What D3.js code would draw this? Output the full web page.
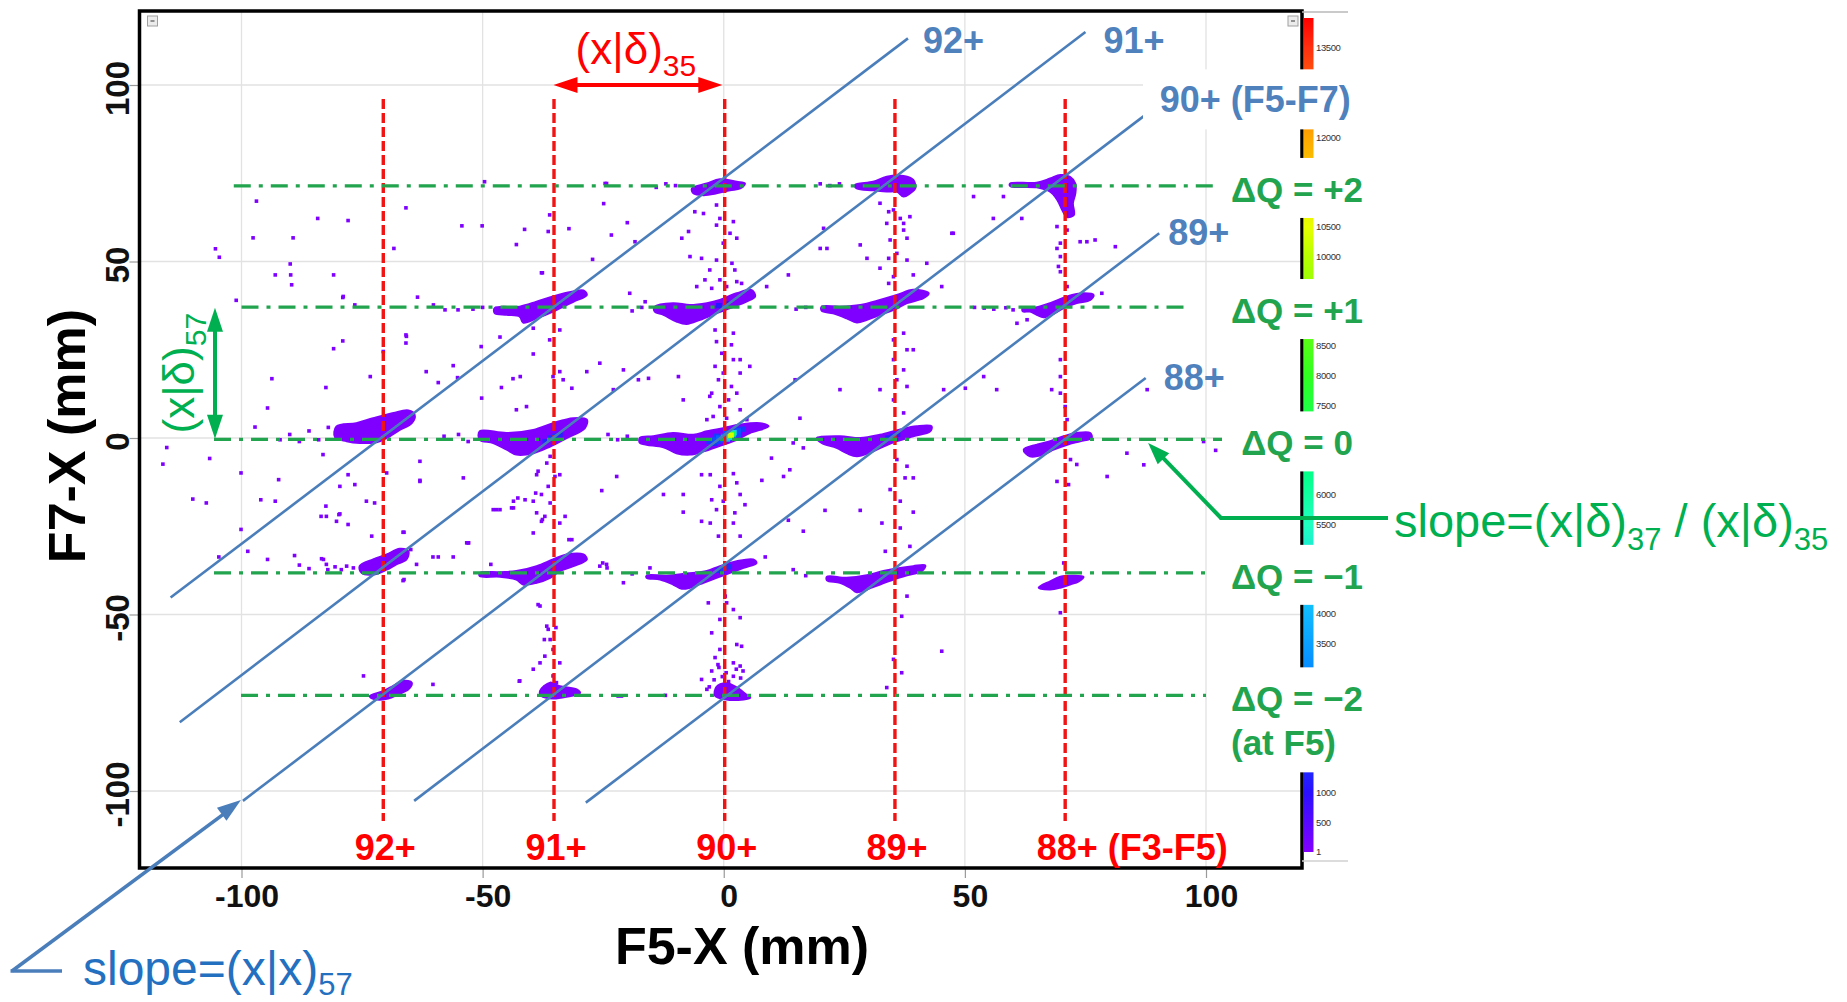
<!DOCTYPE html>
<html>
<head>
<meta charset="utf-8">
<script src="https://cdn.jsdelivr.net/npm/d3@7"></script>
<style>
  html, body { margin: 0; padding: 0; background: #ffffff; }
  svg { display: block; font-family: "Liberation Sans", Arial, sans-serif; }
</style>
</head>
<body>
<svg id="chart" width="1847" height="1002"></svg>
<script>
// ---- axis ticks (mm) ----
const xTicks = [-100, -50, 0, 50, 100];
const yTicks = [-100, -50, 0, 50, 100];

// ---- charge states between F3 and F5 : vertical dashed lines at F5-X ----
const qF35 = ["92+", "91+", "90+", "89+", "88+"];
const xF35 = [-70.6, -35.2, 0.2, 35.5, 70.8];
const yF35Range = [-108.5, 96];

// ---- charge change between F5 and F7 : horizontal dash-dot lines at F7-X ----
const dqLabels = ["ΔQ = +2", "ΔQ = +1", "ΔQ = 0", "ΔQ = −1", "ΔQ = −2"];
const dqY  = [71.4, 37.1, -0.4, -38.2, -72.9];
const dqX0 = [-101.6, -100.0, -105.7, -105.7, -100.1];
const dqX1 = [102.0, 95.4, 104.0, 101.0, 100.0];

// ---- charge states between F5 and F7 : diagonal lines (start / end in mm) ----
const qF57 = ["92+", "91+", "90+ (F5-F7)", "89+", "88+"];
const f57Start = [[-114.7, -45.2], [-112.8, -80.5], [-99.7, -102.8], [-64.2, -102.8], [-28.6, -103.3]];
const f57End   = [[38.2, 113.2], [75.0, 115.0], [87.3, 91.4], [90.3, 58.0], [87.5, 17.0]];

// ---- dispersion markers ----
const dispX35 = [-35.3, -0.3];   // (x|δ)35 arrow, at F7-X = 100
const dispY57 = [-0.2, 36.9];    // (x|δ)57 arrow, at F5-X = -105.5

// ---- dense event clusters (outlines in mm) ----
const clusterOutlines = [
  // 92+ , ΔQ 0
  [[-80.3,3.3],[-76.2,4.2],[-72.7,5.6],[-68.5,7.1],[-65.4,7.8],[-64.1,6.6],[-64.7,4.2],[-67.2,2.3],[-69.9,0.0],[-72.0,-1.2],[-75.5,-1.4],[-78.2,-0.9],[-80.6,0.2]],
  // 91+ , ΔQ 0
  [[-50.6,1.9],[-45.0,1.4],[-39.5,2.3],[-35.4,4.2],[-31.2,5.6],[-28.4,5.2],[-28.8,2.8],[-32.6,0.0],[-36.0,-2.4],[-39.5,-4.3],[-43.0,-4.7],[-45.0,-3.3],[-47.8,-1.4],[-50.6,-0.5]],
  // 91+ , ΔQ +1
  [[-47.5,36.8],[-42.3,37.2],[-38.8,38.6],[-35.4,40.1],[-31.2,41.5],[-29.1,41.8],[-28.4,40.5],[-31.2,38.6],[-35.4,35.8],[-38.8,33.9],[-41.6,32.7],[-42.3,34.4],[-45.0,34.9],[-47.5,35.4]],
  // 90+ , ΔQ +2
  [[-6.6,70.7],[-3.5,72.1],[-0.8,73.3],[2.7,72.6],[4.4,72.1],[3.4,70.7],[1.3,70.2],[-1.5,69.3],[-4.2,68.8],[-6.3,69.3]],
  // 89+ , ΔQ +2
  [[27.2,71.7],[31.0,72.6],[33.8,74.0],[37.3,74.2],[39.3,73.1],[39.7,70.7],[38.6,69.3],[37.3,68.4],[35.9,69.8],[33.8,69.8],[31.0,70.2],[27.6,70.7]],
  // 88+ , ΔQ +2
  [[59.4,72.1],[64.9,72.3],[67.7,73.5],[69.8,74.5],[71.8,74.0],[72.9,72.1],[72.9,69.3],[72.4,66.5],[72.6,63.2],[71.2,62.6],[70.2,64.6],[69.2,67.4],[67.7,69.8],[64.9,71.0],[59.4,71.4]],
  // 90+ , ΔQ +1
  [[-14.3,37.2],[-10.5,38.2],[-7.0,37.7],[-3.5,38.2],[-0.8,39.1],[2.7,41.0],[5.8,41.9],[6.5,40.1],[4.8,38.7],[1.3,36.8],[-1.5,35.4],[-4.9,33.5],[-7.7,32.3],[-9.8,33.0],[-12.5,34.9],[-14.3,35.8]],
  // 89+ , ΔQ +1
  [[20.3,37.2],[24.1,37.2],[28.3,37.7],[32.4,39.1],[35.9,40.5],[39.3,42.0],[42.5,41.0],[41.4,39.6],[38.0,38.2],[35.2,36.3],[32.4,34.9],[29.7,33.5],[27.6,32.7],[25.5,33.9],[22.7,35.3],[20.3,36.1]],
  // 88+ , ΔQ +1
  [[62.0,36.9],[64.2,36.8],[67.7,38.2],[71.2,40.1],[74.6,41.0],[76.7,40.5],[76.0,39.1],[73.2,38.2],[70.5,36.8],[68.4,35.2],[66.3,34.2],[64.9,34.9],[63.5,35.8],[62.0,35.9]],
  // 90+ , ΔQ 0
  [[-17.4,0.0],[-14.6,0.5],[-10.5,1.4],[-6.3,0.9],[-3.5,1.9],[-0.1,2.8],[3.4,3.8],[7.5,4.2],[9.3,3.3],[5.4,1.4],[2.7,-0.5],[-0.8,-2.2],[-4.2,-3.8],[-7.0,-4.7],[-9.8,-4.3],[-12.5,-2.6],[-16.0,-1.9],[-17.4,-1.4]],
  // 89+ , ΔQ 0
  [[19.3,0.0],[24.1,0.5],[28.3,0.0],[32.4,0.9],[36.6,2.4],[40.0,3.3],[43.1,3.3],[42.8,1.9],[39.3,0.5],[35.9,-0.9],[33.1,-2.4],[30.4,-4.1],[27.6,-5.2],[25.5,-4.3],[23.4,-2.8],[20.3,-1.4]],
  // 88+ , ΔQ 0
  [[62.2,-3.3],[64.9,-1.9],[67.7,-0.9],[70.5,0.5],[73.2,1.4],[76.0,1.4],[76.3,0.0],[73.9,-0.9],[71.2,-1.9],[68.4,-3.3],[66.3,-4.7],[63.5,-5.2]],
  // 92+ , ΔQ -1
  [[-75.5,-36.3],[-72.7,-34.4],[-69.9,-33.0],[-67.2,-31.4],[-65.4,-32.1],[-65.8,-34.4],[-67.9,-35.8],[-69.9,-37.3],[-72.7,-38.7],[-75.1,-38.2]],
  // 91+ , ΔQ -1
  [[-50.6,-38.2],[-46.4,-38.0],[-43.0,-37.7],[-38.8,-36.3],[-35.4,-34.4],[-32.6,-33.0],[-29.1,-33.0],[-28.4,-34.4],[-31.2,-36.3],[-34.0,-37.7],[-36.0,-39.6],[-38.8,-41.0],[-41.6,-41.5],[-43.0,-40.1],[-46.4,-39.3],[-50.6,-39.1]],
  // 90+ , ΔQ -1
  [[-16.0,-39.0],[-11.8,-39.0],[-7.7,-38.4],[-3.5,-37.7],[-0.8,-36.3],[2.7,-34.9],[6.1,-34.4],[6.8,-35.4],[4.1,-36.8],[1.3,-38.2],[-1.5,-39.6],[-4.2,-41.0],[-7.0,-42.4],[-8.7,-42.7],[-10.5,-41.5],[-13.2,-40.1],[-16.0,-39.6]],
  // 89+ , ΔQ -1
  [[21.4,-39.3],[25.5,-39.6],[29.7,-38.9],[33.1,-37.7],[36.6,-36.8],[39.3,-36.3],[41.8,-36.1],[41.1,-37.7],[38.0,-38.9],[35.2,-40.1],[32.4,-41.5],[29.7,-42.9],[27.6,-43.7],[26.2,-42.4],[24.1,-41.0],[21.4,-40.3]],
  // 88+ , ΔQ -1
  [[65.3,-42.4],[67.7,-40.6],[69.8,-39.3],[72.5,-39.0],[74.6,-39.3],[73.6,-40.6],[71.8,-41.5],[69.8,-42.4],[67.7,-42.9]],
  // 92+ , ΔQ -2
  [[-73.4,-73.1],[-70.6,-71.7],[-68.6,-70.3],[-66.5,-68.8],[-64.7,-69.3],[-65.4,-71.2],[-67.5,-72.6],[-69.6,-73.8],[-72.3,-74.0]],
  // 91+ , ΔQ -2
  [[-38.1,-71.7],[-36.0,-69.3],[-34.0,-70.3],[-30.5,-71.2],[-29.8,-72.2],[-32.6,-73.3],[-35.4,-73.8],[-37.8,-73.1]],
  // 90+ , ΔQ -2
  [[-1.5,-70.5],[0.5,-69.5],[2.5,-70.5],[4.5,-72.5],[5.5,-73.6],[3.0,-74.2],[0.3,-74.0],[-1.8,-73.0]]
];

// ---- high-count histogram cells (mm, counts) ----
const hotX = [-3.0,-2.0,-1.0,0.0,1.0,2.0,3.0,4.0,-2.0,-1.0,0.0,1.0,2.0,3.0,-1.5,0.5,2.5, 0.0,0.7,1.4,2.1,0.7,1.4, 1.2,1.9, 1.5, -37.0,-36.0,-35.0,-34.0, -1.0,0.0,1.0, 34.0,35.0,36.0, -1.0,0.5];
const hotY = [-1.0,-0.5,0.0,0.5,1.0,1.5,2.0,2.5,-1.5,-1.0,-0.5,0.0,0.5,1.0,0.5,1.5,2.5, 0.0,0.5,1.0,1.5,-0.3,0.2, 0.6,1.1, 0.8, -1.0,0.0,0.5,1.0, -37.5,-37.0,-36.5, 0.0,0.5,1.0, 37.5,38.0];
const hotN = [1600,1900,2300,2500,2600,2400,2100,1700,1500,1800,2200,2600,2300,1900,1700,2100,1600, 4300,4800,5200,4600,4200,4700, 7600,7200, 10300, 1300,1500,1600,1300, 1400,1700,1500, 1200,1400,1200, 1100,1200];

// ---- isolated events (mm) ----
const sparseHits = [
  [-96.9,67.1],[-84.2,62.2],[-97.6,56.7],[-89.3,56.7],[-77.9,61.6],[-65.9,65.2],[-49.6,72.6],[-54.3,60.1],[-50.1,60.1],[-41.3,59.1],[-43.0,54.8],[-32.1,59.3],[-24.9,66.4],[-20.0,61.0],[-105.4,53.6],[-104.6,51.2],[-89.9,49.3],[-93.0,46.2],[-89.8,46.2],[-89.6,43.4],[-80.9,46.2],[-68.4,53.7],[-37.6,46.8],[-27.2,50.6],[-19.5,41.0],[-101.1,39.0],[-79.0,39.8],[-63.5,39.9],[-16.3,38.6],[-79.0,27.5],[-80.9,25.3],[-65.9,29.2],[-65.9,26.9],[-50.3,25.9],[-46.4,28.6],[-55.2,17.1],[-73.3,17.4],[-93.7,16.8],[-82.5,14.3],[-61.7,18.8],[-42.2,17.4],[-17.7,16.5],[-9.4,17.4],[-115.5,-2.7],[-116.3,-7.4],[-106.6,-5.8],[-100.1,-9.9],[-92.3,-11.8],[-94.6,8.5],[-97.2,3.1],
  [-36.1,63.2],[-36.4,58.5],[-24.3,72.1],[-23.3,57.5],[-18.4,55.6],[-78.9,40.1],[-76.5,37.7],[-60.2,37.7],[-57.8,36.3],[-55.1,36.3],[-65.8,28.8],[-70.6,24.5],[-56.1,20.5],[-59.2,15.7],[-50.2,11.3],[-46.1,14.3],[-43.7,16.8],[-39.5,23.8],[-37.8,46.8],[-34.0,30.6],[-36.1,27.8],[-39.5,31.1],[-34.0,18.8],[-35.4,17.4],[-33.3,16.5],[-43.0,8.0],[-40.9,8.9],[-31.5,14.1],[-28.4,18.8],[-25.7,21.2],[-20.8,19.3],[-15.6,16.9],[-22.9,13.7],[-36.0,-5.2],[-36.7,-7.1],[-38.5,-9.4],[-34.0,-10.4],[-63.0,-6.6],[-77.9,-10.4],[-69.9,-9.9],[-83.1,-4.7],[-24.6,72.1],
  [-6.0,64.1],[-4.2,63.6],[-1.5,66.0],[-0.8,62.2],[2.0,61.3],[-1.5,60.3],[1.3,58.0],[2.7,56.6],[-0.1,55.2],[-1.5,50.4],[1.7,49.5],[-2.9,47.6],[2.3,47.6],[-3.9,44.8],[-0.8,44.8],[2.7,44.3],[0.6,42.9],[-2.5,42.4],[-5.6,42.9],[3.7,43.8],[-1.8,30.6],[2.0,29.7],[-1.5,27.3],[1.6,26.4],[-0.4,24.0],[2.0,22.2],[-1.8,20.3],[-0.1,18.4],[3.4,18.4],[-1.1,16.5],[1.6,14.6],[-2.5,12.7],[1.0,10.8],[2.7,12.7],[-0.8,8.9],[3.4,8.0],[-2.2,6.1],[0.6,5.6],[-7.3,58.5],[-8.7,56.6],[-7.0,51.4],[-4.6,50.9],[-2.9,11.8],[3.4,22.2],[5.4,20.3],[-8.4,10.8],[-3.5,5.2],[4.8,5.2],
  [8.9,42.9],[13.4,46.2],[20.7,59.4],[20.0,53.7],[21.4,53.7],[28.3,54.7],[29.7,50.9],[34.2,50.9],[32.4,48.1],[42.1,49.5],[39.3,46.2],[45.2,42.9],[47.3,58.0],[14.8,16.5],[15.8,5.6],[24.1,13.7],[32.4,13.7],[39.3,25.0],[45.6,13.7],[51.8,68.4],[34.2,64.1],[37.3,58.9],[38.0,56.6],[32.4,66.5],[33.8,60.8],[36.6,62.2],[38.6,62.7],[14.4,-1.4],[16.5,-2.8],[13.7,-9.0],[9.9,-5.7],
  [35.2,64.6],[37.3,60.8],[34.5,56.1],[35.9,52.3],[38.0,50.4],[35.2,45.7],[34.2,43.8],[37.3,29.7],[35.2,27.8],[38.0,25.0],[35.2,22.2],[37.3,19.3],[35.9,16.5],[38.0,14.6],[35.2,10.8],[37.3,7.1],[35.9,-6.1],[38.0,-8.0],
  [69.1,59.9],[71.2,58.9],[69.8,55.2],[69.1,53.7],[69.8,51.4],[69.4,48.6],[69.8,47.1],[71.2,42.9],[73.9,55.6],[75.3,55.6],[77.0,56.1],[81.2,54.2],[69.8,22.2],[69.8,17.4],[68.0,13.7],[69.8,12.7],[70.8,8.9],[71.2,5.2],[71.9,-6.1],[73.2,-7.5],[78.4,41.0],[62.9,33.5],[60.8,32.5],[53.9,17.4],[56.6,13.7],[50.1,14.1],[58.0,68.4],[61.8,62.2],[55.9,62.2],[47.6,58.0],[79.5,-10.9],[83.6,-4.3],[87.1,-7.6],[87.8,13.7],[99.5,-1.0],[102.0,-3.5],[104.0,-2.0],
  [-4.6,-10.4],[-2.8,-10.4],[2.0,-10.1],[2.7,-12.7],[-0.8,-13.7],[-2.5,-17.5],[-0.1,-17.9],[3.4,-16.0],[-1.5,-20.3],[2.3,-21.2],[-4.6,-23.6],[-2.8,-24.1],[2.0,-24.1],[-1.1,-27.8],[3.4,-27.8],[0.3,-44.8],[0.6,-46.7],[-3.2,-46.7],[2.0,-48.6],[-0.8,-51.4],[3.4,-50.9],[-2.5,-55.2],[2.7,-58.5],[3.7,-59.0],[-0.8,-59.9],[-1.8,-62.2],[2.0,-63.7],[3.4,-64.6],[-4.6,-68.4],[-3.5,-71.2],[-8.4,-16.0],[-12.5,-16.0],[-8.4,-21.0],[7.9,-12.0],[12.4,-10.9],[4.4,-18.9],[13.4,-23.3],[16.5,-26.4],[8.6,-33.7],[14.4,-37.3],
  [-2.5,-66.0],[-1.0,-65.0],[0.5,-66.5],[2.0,-67.5],[-2.0,-68.5],[1.0,-69.0],[3.5,-68.0],[-3.0,-70.5],[4.0,-66.0],[-1.2,-64.2],[2.6,-65.5],[-0.3,-67.6],
  [34.5,-14.6],[37.6,-11.3],[39.3,-11.3],[36.6,-17.9],[39.3,-21.0],[32.8,-24.1],[36.6,-25.5],[38.6,-30.7],[33.5,-32.1],[38.0,-44.8],[36.9,-50.5],[35.2,-62.7],[36.9,-66.5],[33.8,-70.7],[21.0,-20.5],[28.3,-20.5],[45.2,-60.4],[69.1,-12.3],[71.5,-13.2],[70.5,-35.4],[69.8,-49.5],
  [-38.8,-10.4],[-35.0,-10.9],[-36.4,-13.7],[-37.8,-16.0],[-39.5,-17.9],[-41.2,-17.5],[-36.0,-18.4],[-38.8,-21.2],[-37.1,-22.2],[-34.0,-24.1],[-37.8,-23.6],[-32.9,-22.2],[-39.5,-26.9],[-31.5,-28.8],[-47.1,-20.3],[-46.4,-20.3],[-43.6,-17.9],[-44.0,-19.8],[-54.0,-11.3],[-63.0,-12.3],[-53.0,-29.7],[-38.5,-47.2],[-36.4,-54.2],[-36.0,-57.1],[-35.4,-59.9],[-37.1,-61.8],[-39.5,-65.5],[-38.1,-63.7],[-34.0,-63.7],[-35.4,-67.4],[-34.7,-69.3],[-36.7,-53.3],[-42.3,-68.8],[-25.3,-14.9],[-22.2,-10.9],[-25.7,-36.3],[-20.8,-41.0],[-21.2,-73.1],[-15.3,-36.8],[-24.3,-35.8],
  [-79.6,-13.7],[-76.5,-13.2],[-82.4,-22.2],[-79.6,-21.5],[-80.3,-23.6],[-77.9,-24.5],[-73.0,-27.8],[-74.1,-17.9],[-72.4,-18.4],[-66.5,-26.7],[-63.0,-12.0],[-66.5,-40.4],[-63.7,-35.8],[-60.3,-33.7],[-59.2,-33.7],[-56.1,-33.7],[-53.3,-29.7],[-60.3,-69.8],[-83.4,-34.2],[-82.4,-35.8],[-80.6,-36.5],[-79.3,-37.3],[-78.2,-36.3],[-76.8,-36.8],
  [-110.1,-17.3],[-107.3,-18.4],[-96.0,-17.5],[-93.0,-17.9],[-100.1,-25.9],[-98.7,-32.1],[-104.7,-33.7],[-94.6,-34.4],[-89.0,-33.3],[-83.0,-34.4],[-82.1,-37.3],[-66.3,-26.7],[-64.9,-31.6],[-52.9,-29.7],[-48.3,-35.8],[-43.6,-19.8],[-42.7,-17.0],[-39.0,-15.6],[-37.6,-23.1],[-32.1,-28.8],[-25.1,-35.4],[-24.2,-36.8],[-47.8,-20.3],[-83.5,-22.2],[-79.8,-21.7],[-82.5,-19.3],[-66.3,-40.1],[-74.7,-67.4],[-42.4,-68.9],[-38.1,-47.6],[-21.9,-73.1],[-12.1,-72.9],[-37.2,-57.1],[-34.8,-53.7],
  [-84.0,-0.5],[-86.0,2.0],[-88.0,-1.0],[-90.0,1.0],[-92.0,-0.5],[-82.0,3.0],[-55.0,1.0],[-53.0,-1.0],[-58.0,0.5],[-50.0,37.0],[-52.0,36.5],[-17.0,37.0],[-19.0,36.0],[17.0,37.0],[15.0,36.5],[52.0,37.0],[54.0,36.8],[56.0,36.5],[58.5,36.9],[60.0,36.3],[-12.0,72.0],[-10.0,71.5],[-14.0,71.0],[20.0,72.0],[22.0,71.5],[24.0,72.0],[-88.0,-36.0],[-86.0,-37.0],[-19.0,-38.5],[17.0,-39.0],[-20.0,0.5],[-22.0,-0.5],[-24.0,1.0]
];

// ---- colour bar: labelled counts and colour stops ----
const cbTicks = [1, 500, 1000, 3500, 4000, 5500, 6000, 7500, 8000, 8500, 10000, 10500, 12000, 13500];
const cbStops  = [0, 1000, 2500, 4000, 5500, 6500, 8000, 10000, 10500, 12000, 13500, 14000];
const cbColors = ["#8400ff","#2a10ff","#0070ff","#10b8ff","#20ffc0","#00ff80","#30ff20","#b8ff00","#e8ff00","#ffa800","#ff3010","#ff0000"];

// ================= drawing =================
const svg = d3.select("#chart");
const frame = { l: 139.5, r: 1302, t: 11, b: 868 };

const x = d3.scaleLinear().domain([-100, 100]).range([241.5, 1206]);
const y = d3.scaleLinear().domain([-100, 100]).range([791, 85]);
const cScale = d3.scaleLinear().domain(cbStops).range(cbColors).interpolate(d3.interpolateRgb);
const cbY = d3.scaleLinear().domain([0, 14000]).range([852, 18]);

const RED = "#f01414", GREEN = "#22a44e", GREEN2 = "#00b050", BLUE = "#4a7ebb", BLUE_T = "#4f81bd";

// grid
const grid = svg.append("g");
grid.selectAll("line.gx").data(xTicks).join("line")
  .attr("x1", d => x(d)).attr("x2", d => x(d)).attr("y1", frame.t).attr("y2", frame.b)
  .attr("stroke", "#e2e2e2").attr("stroke-width", 1.3);
grid.selectAll("line.gy").data(yTicks).join("line")
  .attr("x1", frame.l).attr("x2", frame.r).attr("y1", d => y(d)).attr("y2", d => y(d))
  .attr("stroke", "#e2e2e2").attr("stroke-width", 1.3);

// axes (hyphen minus in tick labels)
const tickFmt = d => String(d);
const xAxis = svg.append("g").attr("transform", `translate(0,${frame.b})`)
  .call(d3.axisBottom(x).tickValues(xTicks).tickSize(10).tickPadding(0).tickFormat(tickFmt));
xAxis.select(".domain").remove();
xAxis.selectAll(".tick line").attr("stroke", "#9a9a9a").attr("stroke-width", 1.2);
xAxis.selectAll(".tick text").attr("y", 39).attr("dy", 0).attr("x", 5)
  .attr("font-size", 32).attr("font-weight", "bold").attr("fill", "#111")
  .attr("font-family", "Liberation Sans, Arial, sans-serif");

const yAxis = svg.append("g").attr("transform", `translate(${frame.l},0)`)
  .call(d3.axisLeft(y).tickValues(yTicks).tickSize(10).tickPadding(0).tickFormat(tickFmt));
yAxis.select(".domain").remove();
yAxis.selectAll(".tick line").attr("stroke", "#9a9a9a").attr("stroke-width", 1.2);
yAxis.selectAll(".tick text").attr("transform", "rotate(-90)")
  .attr("x", -3).attr("y", -10.5).attr("dy", 0).attr("text-anchor", "middle")
  .attr("font-size", 33).attr("font-weight", "bold").attr("fill", "#111")
  .attr("font-family", "Liberation Sans, Arial, sans-serif");

// event clusters
const plot = svg.append("g");
const outline = d3.line().x(d => x(d[0])).y(d => y(d[1])).curve(d3.curveCatmullRomClosed.alpha(0.5));
plot.selectAll("path.cl").data(clusterOutlines).join("path")
  .attr("d", outline).attr("fill", "#7f00ff").attr("stroke", "#7f00ff").attr("stroke-width", 2);

// isolated events
const px = 3.6;
plot.selectAll("rect.hit").data(sparseHits).join("rect")
  .attr("x", d => x(d[0]) - px / 2).attr("y", d => y(d[1]) - px / 2)
  .attr("width", px).attr("height", px).attr("fill", "#7f00ff");

// high-count cells
const hot = hotX.map((v, i) => ({ x: v, y: hotY[i], n: hotN[i] })).sort((a, b) => a.n - b.n);
plot.selectAll("rect.hot").data(hot).join("rect")
  .attr("x", d => x(d.x - 0.6)).attr("y", d => y(d.y + 0.75))
  .attr("width", d => x(d.x + 0.6) - x(d.x - 0.6)).attr("height", d => y(d.y - 0.75) - y(d.y + 0.75))
  .attr("fill", d => cScale(d.n));

// F3-F5 charge state lines (vertical)
plot.selectAll("line.q35").data(xF35).join("line")
  .attr("x1", d => x(d)).attr("x2", d => x(d))
  .attr("y1", y(yF35Range[1])).attr("y2", y(yF35Range[0]))
  .attr("stroke", RED).attr("stroke-width", 3.4).attr("stroke-dasharray", "10,4");

// ΔQ lines (horizontal dash-dot)
plot.selectAll("line.dq").data(dqY).join("line")
  .attr("x1", (d, i) => x(dqX0[i])).attr("x2", (d, i) => x(dqX1[i]))
  .attr("y1", d => y(d)).attr("y2", d => y(d))
  .attr("stroke", GREEN).attr("stroke-width", 3.3).attr("stroke-dasharray", "17,8,4,8");

// F5-F7 charge state lines (diagonal)
plot.selectAll("line.q57").data(f57Start).join("line")
  .attr("x1", d => x(d[0])).attr("y1", d => y(d[1]))
  .attr("x2", (d, i) => x(f57End[i][0])).attr("y2", (d, i) => y(f57End[i][1]))
  .attr("stroke", BLUE).attr("stroke-width", 2.6);

// frame
svg.append("rect").attr("x", frame.l).attr("y", frame.t)
  .attr("width", frame.r - frame.l).attr("height", frame.b - frame.t)
  .attr("fill", "none").attr("stroke", "#000").attr("stroke-width", 3.5);

// small corner widgets
[[frame.l + 8, 16], [frame.r - 14, 16]].forEach(p => {
  svg.append("rect").attr("x", p[0]).attr("y", p[1]).attr("width", 10).attr("height", 10)
    .attr("fill", "#ececec").attr("stroke", "#a0a0a0").attr("stroke-width", 1);
  svg.append("line").attr("x1", p[0] + 3).attr("x2", p[0] + 7).attr("y1", p[1] + 5).attr("y2", p[1] + 5)
    .attr("stroke", "#555").attr("stroke-width", 1.2);
});

// colour bar
const defs = svg.append("defs");
const grad = defs.append("linearGradient").attr("id", "cbGrad")
  .attr("x1", 0).attr("y1", 1).attr("x2", 0).attr("y2", 0);
grad.selectAll("stop").data(cbStops).join("stop")
  .attr("offset", d => d / 14000).attr("stop-color", d => cScale(d));
svg.append("rect").attr("x", frame.r + 1.5).attr("y", cbY(14000))
  .attr("width", 10).attr("height", cbY(0) - cbY(14000)).attr("fill", "url(#cbGrad)");
svg.append("line").attr("x1", frame.r).attr("x2", frame.r + 46).attr("y1", 12).attr("y2", 12)
  .attr("stroke", "#b8b8b8").attr("stroke-width", 1.3);
svg.append("line").attr("x1", frame.r).attr("x2", frame.r + 46).attr("y1", 861).attr("y2", 861)
  .attr("stroke", "#d0d0d0").attr("stroke-width", 1.3);
svg.selectAll("text.cb").data(cbTicks).join("text")
  .attr("x", frame.r + 14).attr("y", d => cbY(d) + 3.5)
  .attr("font-size", 9.5).attr("fill", "#333").attr("letter-spacing", -0.4).text(d => d);

// white label panels (drawn over the plot edge and colour bar)
const dqBase = dqY.map(v => y(v) + 16);
const panels = [
  { x0: 1143, x1: 1366, y0: y(f57End[2][1]) - 3 - 43, y1: y(f57End[2][1]) - 3 + 17 },
  ...dqBase.map((b, i) => ({ x0: 1222, x1: 1372, y0: b - 44, y1: b + (i === 4 ? 61 : 16) }))
];
svg.selectAll("rect.panel").data(panels).join("rect")
  .attr("x", d => d.x0).attr("y", d => d.y0).attr("width", d => d.x1 - d.x0).attr("height", d => d.y1 - d.y0)
  .attr("fill", "#ffffff");

// labels: F5-F7 charge states at the upper end of each diagonal
const f57Offset = [[15, 15], [18, 21], [15, -3], [9, 12], [18, 12]];
svg.selectAll("text.q57").data(qF57).join("text")
  .attr("x", (d, i) => x(f57End[i][0]) + f57Offset[i][0])
  .attr("y", (d, i) => y(f57End[i][1]) + f57Offset[i][1])
  .attr("font-size", 36).attr("font-weight", "bold").attr("fill", BLUE_T).text(d => d);

// labels: ΔQ
svg.selectAll("text.dq").data(dqLabels).join("text")
  .attr("x", 1297).attr("y", (d, i) => dqBase[i]).attr("text-anchor", "middle")
  .attr("font-size", 35).attr("font-weight", "bold").attr("fill", GREEN).text(d => d);
svg.append("text").attr("x", 1231).attr("y", dqBase[4] + 44)
  .attr("font-size", 35).attr("font-weight", "bold").attr("fill", GREEN).text("(at F5)");

// labels: F3-F5 charge states at the foot of each vertical line
const q35 = svg.append("g");
qF35.forEach((q, i) => {
  const t = q35.append("text").attr("y", 860).attr("font-size", 36).attr("font-weight", "bold").attr("fill", "#ff0000").text(q);
  const w = t.node().getComputedTextLength();
  t.attr("x", x(xF35[i]) - w / 2 + 2);
  if (i === qF35.length - 1) t.append("tspan").text(" (F3-F5)");
});

// axis titles
svg.append("text").attr("x", 742).attr("y", 964).attr("text-anchor", "middle")
  .attr("font-size", 52).attr("font-weight", "bold").attr("fill", "#000").text("F5-X (mm)");
svg.append("text").attr("transform", "translate(85,436) rotate(-90)").attr("text-anchor", "middle")
  .attr("font-size", 52).attr("font-weight", "bold").attr("fill", "#000").text("F7-X (mm)");

// helpers for arrows and subscripted labels
function arrowHead(g, tip, from, len, half, color) {
  const a = Math.atan2(tip[1] - from[1], tip[0] - from[0]);
  const bx = tip[0] - len * Math.cos(a), by = tip[1] - len * Math.sin(a);
  const nx = -Math.sin(a) * half, ny = Math.cos(a) * half;
  g.append("path").attr("d", `M${tip[0]},${tip[1]}L${bx + nx},${by + ny}L${bx - nx},${by - ny}Z`).attr("fill", color);
}
function segment(g, p0, p1, color, w) {
  g.append("line").attr("x1", p0[0]).attr("y1", p0[1]).attr("x2", p1[0]).attr("y2", p1[1])
    .attr("stroke", color).attr("stroke-width", w);
}
function richText(g, parts, color, anchor) {
  const t = g.append("text").attr("fill", color).attr("text-anchor", anchor || "start");
  let shift = 0;
  parts.forEach(p => {
    const target = p.sub ? p.drop : 0;
    t.append("tspan").attr("font-size", p.size).attr("dy", target - shift).text(p.t);
    shift = target;
  });
  return t;
}

const ann = svg.append("g");

// (x|δ)35 : double arrow between neighbouring F3-F5 charge states
{
  const yA = y(100), xa = x(dispX35[0]), xb = x(dispX35[1]);
  segment(ann, [xa + 18, yA], [xb - 18, yA], "#ff0000", 4);
  arrowHead(ann, [xa, yA], [xb, yA], 24, 8, "#ff0000");
  arrowHead(ann, [xb, yA], [xa, yA], 24, 8, "#ff0000");
  richText(ann, [{ t: "(x|δ)", size: 44 }, { t: "35", size: 30, sub: true, drop: 12 }], "#ff0000", "middle")
    .attr("x", (xa + xb) / 2 - 2).attr("y", yA - 21);
}

// (x|δ)57 : vertical double arrow between ΔQ = 0 and ΔQ = +1
{
  const xA = x(-105.5), ya = y(dispY57[0]), yb = y(dispY57[1]);
  segment(ann, [xA, ya - 18], [xA, yb + 18], GREEN2, 4);
  arrowHead(ann, [xA, ya], [xA, yb], 24, 8, GREEN2);
  arrowHead(ann, [xA, yb], [xA, ya], 24, 8, GREEN2);
  richText(ann, [{ t: "(x|δ)", size: 44 }, { t: "57", size: 30, sub: true, drop: 12 }], GREEN2, "middle")
    .attr("transform", `translate(194,${(ya + yb) / 2}) rotate(-90)`);
}

// slope of the ΔQ lines
{
  const tip = [x(88), y(-1.4)], elbow = [1221, 518], end = [1388, 518];
  segment(ann, [tip[0] + 12, tip[1] + 12], elbow, GREEN2, 4);
  segment(ann, [elbow[0] - 1.5, elbow[1]], end, GREEN2, 4);
  arrowHead(ann, tip, elbow, 22, 8, GREEN2);
  richText(ann, [
    { t: "slope=(x|δ)", size: 47 }, { t: "37", size: 31, sub: true, drop: 13 },
    { t: " / (x|δ)", size: 47 }, { t: "35", size: 31, sub: true, drop: 13 }
  ], GREEN2).attr("x", 1394).attr("y", 537);
}

// slope of the diagonal lines
{
  const tip = [x(f57Start[2][0]) - 2, y(f57Start[2][1]) - 1], elbow = [12, 971];
  segment(ann, [tip[0] - 13, tip[1] + 11], elbow, BLUE, 3.6);
  segment(ann, [elbow[0] - 1.5, elbow[1]], [62, 971], BLUE, 3.6);
  arrowHead(ann, tip, elbow, 24, 8, BLUE);
  richText(ann, [{ t: "slope=(x|x)", size: 48 }, { t: "57", size: 31, sub: true, drop: 10 }], "#2470c0")
    .attr("x", 83).attr("y", 985);
}
</script>
</body>
</html>
